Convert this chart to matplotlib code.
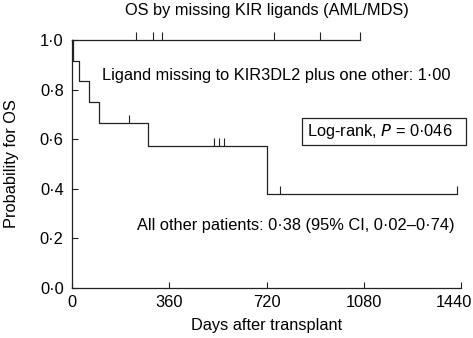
import matplotlib
matplotlib.use("Agg")
import matplotlib.pyplot as plt
from matplotlib.transforms import ScaledTranslation
from matplotlib.patches import Rectangle

plt.rcParams['font.family'] = ['Liberation Sans', 'DejaVu Sans']

# Group with ligand missing to KIR3DL2 plus one other (no events)
g1_censor = [237, 300, 333, 748, 918, 1066]
g1_end = 1066

# All other patients
g2_event_times = [4, 26, 63, 100, 281, 722]
g2_surv = [0.917, 0.833, 0.750, 0.667, 0.571, 0.381]
g2_censor_times = [211, 525, 544, 562, 770, 1425]
g2_censor_surv = [0.667, 0.571, 0.571, 0.571, 0.381, 0.381]
g2_end = 1425

xticks = [0, 360, 720, 1080, 1440]
yticks = [0.0, 0.2, 0.4, 0.6, 0.8, 1.0]
ytick_labels = ['0·0', '0·2', '0·4', '0·6', '0·8', '1·0']

col = '#222222'
fs = 11.8
fig = plt.figure(figsize=(4.73, 3.38), dpi=100)
ax = fig.add_axes([72/473, 50/338, (461-72)/473, (288-40)/338])

# group 1 line
ax.plot([0, g1_end], [1.0, 1.0], color=col, lw=0.9, clip_on=False)
ax.plot(g1_censor, [1.0]*len(g1_censor), linestyle='none', marker=2,
        markersize=6, color=col, mew=0.8, clip_on=False)

# group 2 step
xs = [0] + g2_event_times + [g2_end]
ys = [1.0] + g2_surv + [g2_surv[-1]]
ax.step(xs, ys, where='post', color=col, lw=0.9, clip_on=False)
ax.plot(g2_censor_times, g2_censor_surv, linestyle='none', marker=2,
        markersize=6, color=col, mew=0.8, clip_on=False)

ax.set_xlim(0, 1440)
ax.set_ylim(0, 1.0)
ax.set_xticks(xticks)
ax.set_xticklabels([str(t) for t in xticks])
ax.set_yticks(yticks)
ax.set_yticklabels(ytick_labels)
ax.tick_params(direction='in', length=4, width=0.8, labelsize=fs, color=col, pad=5)
ax.tick_params(axis='y', pad=6)
for s in ['top', 'right']:
    ax.spines[s].set_visible(False)
for s in ['left', 'bottom']:
    ax.spines[s].set_linewidth(0.9)
    ax.spines[s].set_color(col)

# shift last x tick label left so it fits in the figure
last = ax.get_xticklabels()[-1]
last.set_transform(last.get_transform() + ScaledTranslation(-7/100, 0, fig.dpi_scale_trans))

ax.set_xlabel('Days after transplant', fontsize=fs, labelpad=6)
ax.set_ylabel('Probability for OS', fontsize=fs, labelpad=15)
ax.set_title('OS by missing KIR ligands (AML/MDS)', fontsize=fs, pad=18)

ax.text(111, 0.855, 'Ligand missing to KIR3DL2 plus one other: 1·00',
        fontsize=fs, va='center', ha='left')
ax.text(240, 0.254, 'All other patients: 0·38 (95% CI, 0·02–0·74)',
        fontsize=fs, va='center', ha='left')
ax.add_patch(Rectangle((851, 0.577), 1459 - 851, 0.685 - 0.577, fc='white',
                       ec=col, lw=0.9, clip_on=False))
ax.text(870, 0.631, 'Log-rank, $\\it{P}$ = 0·046', fontsize=fs, va='center', ha='left')

fig.savefig('out.png', dpi=100)
